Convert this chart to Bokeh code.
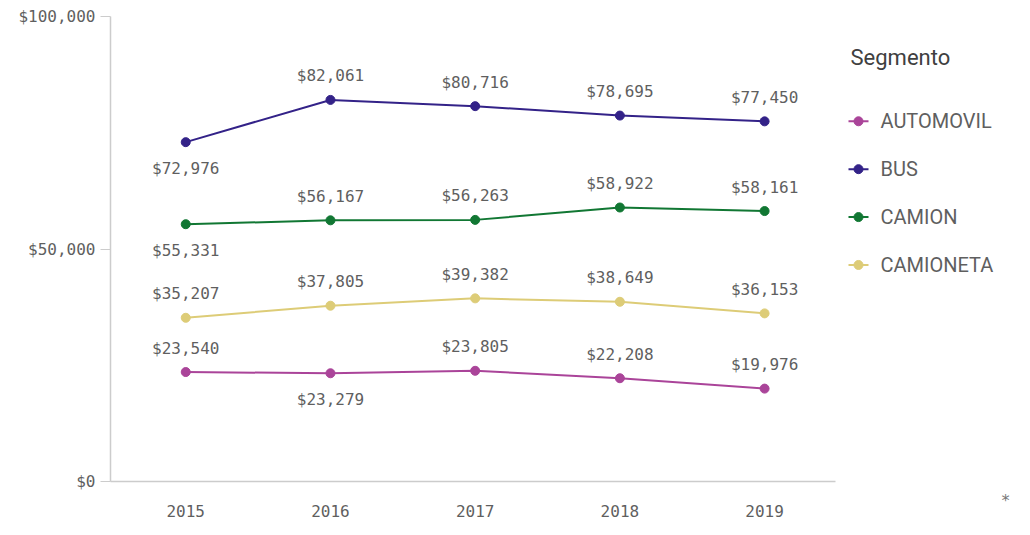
from bokeh.plotting import figure
from bokeh.layouts import row
from bokeh.models import (ColumnDataSource, FixedTicker, NumeralTickFormatter,
                          Range1d)
from bokeh.core.properties import value
from bokeh.embed import file_html
from bokeh.resources import INLINE

years = [2015, 2016, 2017, 2018, 2019]
segments = ["AUTOMOVIL", "BUS", "CAMION", "CAMIONETA"]
automovil = [23540, 23279, 23805, 22208, 19976]
bus = [72976, 82061, 80716, 78695, 77450]
camion = [55331, 56167, 56263, 58922, 58161]
camioneta = [35207, 37805, 39382, 38649, 36153]
y_ticks = [0, 50000, 100000]
legend_title = "Segmento"
footnote = "*"

series = [automovil, bus, camion, camioneta]
colors = ["#AA4499", "#332288", "#117733", "#DDCC77"]
# label placement (True = below the point)
below = [
    [False, True, False, False, False],
    [True, False, False, False, False],
    [True, False, False, False, False],
    [False, False, False, False, False],
]

MONO = "DejaVu Sans Mono"
LBL = "#5f5f5f"
H = 519
TOP, BOT = 16, 37

p = figure(width=845, height=H, output_backend="svg", toolbar_location=None,
           x_range=Range1d(2014.48, 2019.49), y_range=Range1d(0, 100000),
           min_border_left=110, min_border_top=TOP, min_border_right=10,
           min_border_bottom=BOT)
p.outline_line_color = None
p.grid.grid_line_color = None

for name, vals, col, bl in zip(segments, series, colors, below):
    src = ColumnDataSource(dict(
        x=years, y=vals,
        t=["${:,}".format(v) for v in vals],
        off=[26 if b else -24 for b in bl]))
    p.line("x", "y", source=src, line_color=col, line_width=2)
    p.scatter("x", "y", source=src, size=9, fill_color=col, line_color=col)
    p.text("x", "y", text="t", source=src, y_offset="off", text_align="center",
           text_baseline="middle", text_font=value(MONO), text_font_size="16px",
           text_color=LBL)

ax = p.xaxis[0]
ax.ticker = FixedTicker(ticks=years)
ax.major_tick_line_color = None
ax.minor_tick_line_color = None
ax.axis_line_color = "#cccccc"
ax.axis_line_width = 1.5
ax.major_label_text_font = MONO
ax.major_label_text_font_size = "16px"
ax.major_label_text_color = LBL
ax.major_label_standoff = 17

ay = p.yaxis[0]
ay.ticker = FixedTicker(ticks=y_ticks)
ay.formatter = NumeralTickFormatter(format="$0,0")
ay.minor_tick_line_color = None
ay.major_tick_line_color = "#cccccc"
ay.major_tick_out = 10
ay.major_tick_in = 0
ay.axis_line_color = "#cccccc"
ay.axis_line_width = 1.5
ay.major_label_text_font = MONO
ay.major_label_text_font_size = "16px"
ay.major_label_text_color = LBL
ay.major_label_standoff = 5

# legend panel (pixel coordinates, y downward, frame aligned with main plot)
LW = 169
leg = figure(width=LW, height=H, output_backend="svg", toolbar_location=None,
             x_range=Range1d(0, LW), y_range=Range1d(H - BOT, TOP),
             min_border_left=0, min_border_right=0,
             min_border_top=TOP, min_border_bottom=BOT,
             x_axis_type=None, y_axis_type=None,
             title=footnote, title_location="below")
leg.outline_line_color = None
leg.grid.grid_line_color = None
leg.title.align = "right"
leg.title.offset = 4
leg.title.standoff = 14
leg.title.text_font = MONO
leg.title.text_font_size = "16px"
leg.title.text_font_style = "normal"
leg.title.text_color = "#777777"

leg.text(x=[5], y=[57], text=[legend_title], text_font=value("Roboto"),
         text_font_size="22px", text_color="#404040", text_baseline="middle")
ys = [121 + 48 * i for i in range(len(segments))]
leg.segment(x0=[3] * len(ys), y0=ys, x1=[23] * len(ys), y1=ys,
            line_color=colors, line_width=2)
leg.scatter(x=[13] * len(ys), y=ys, size=9, fill_color=colors, line_color=colors)
leg.text(x=[35] * len(ys), y=ys, text=segments, text_font=value("Roboto"),
         text_font_size="20px", text_color=LBL, text_baseline="middle")

layout = row(p, leg, spacing=0)
open("out.html", "w").write(file_html(layout, INLINE))
